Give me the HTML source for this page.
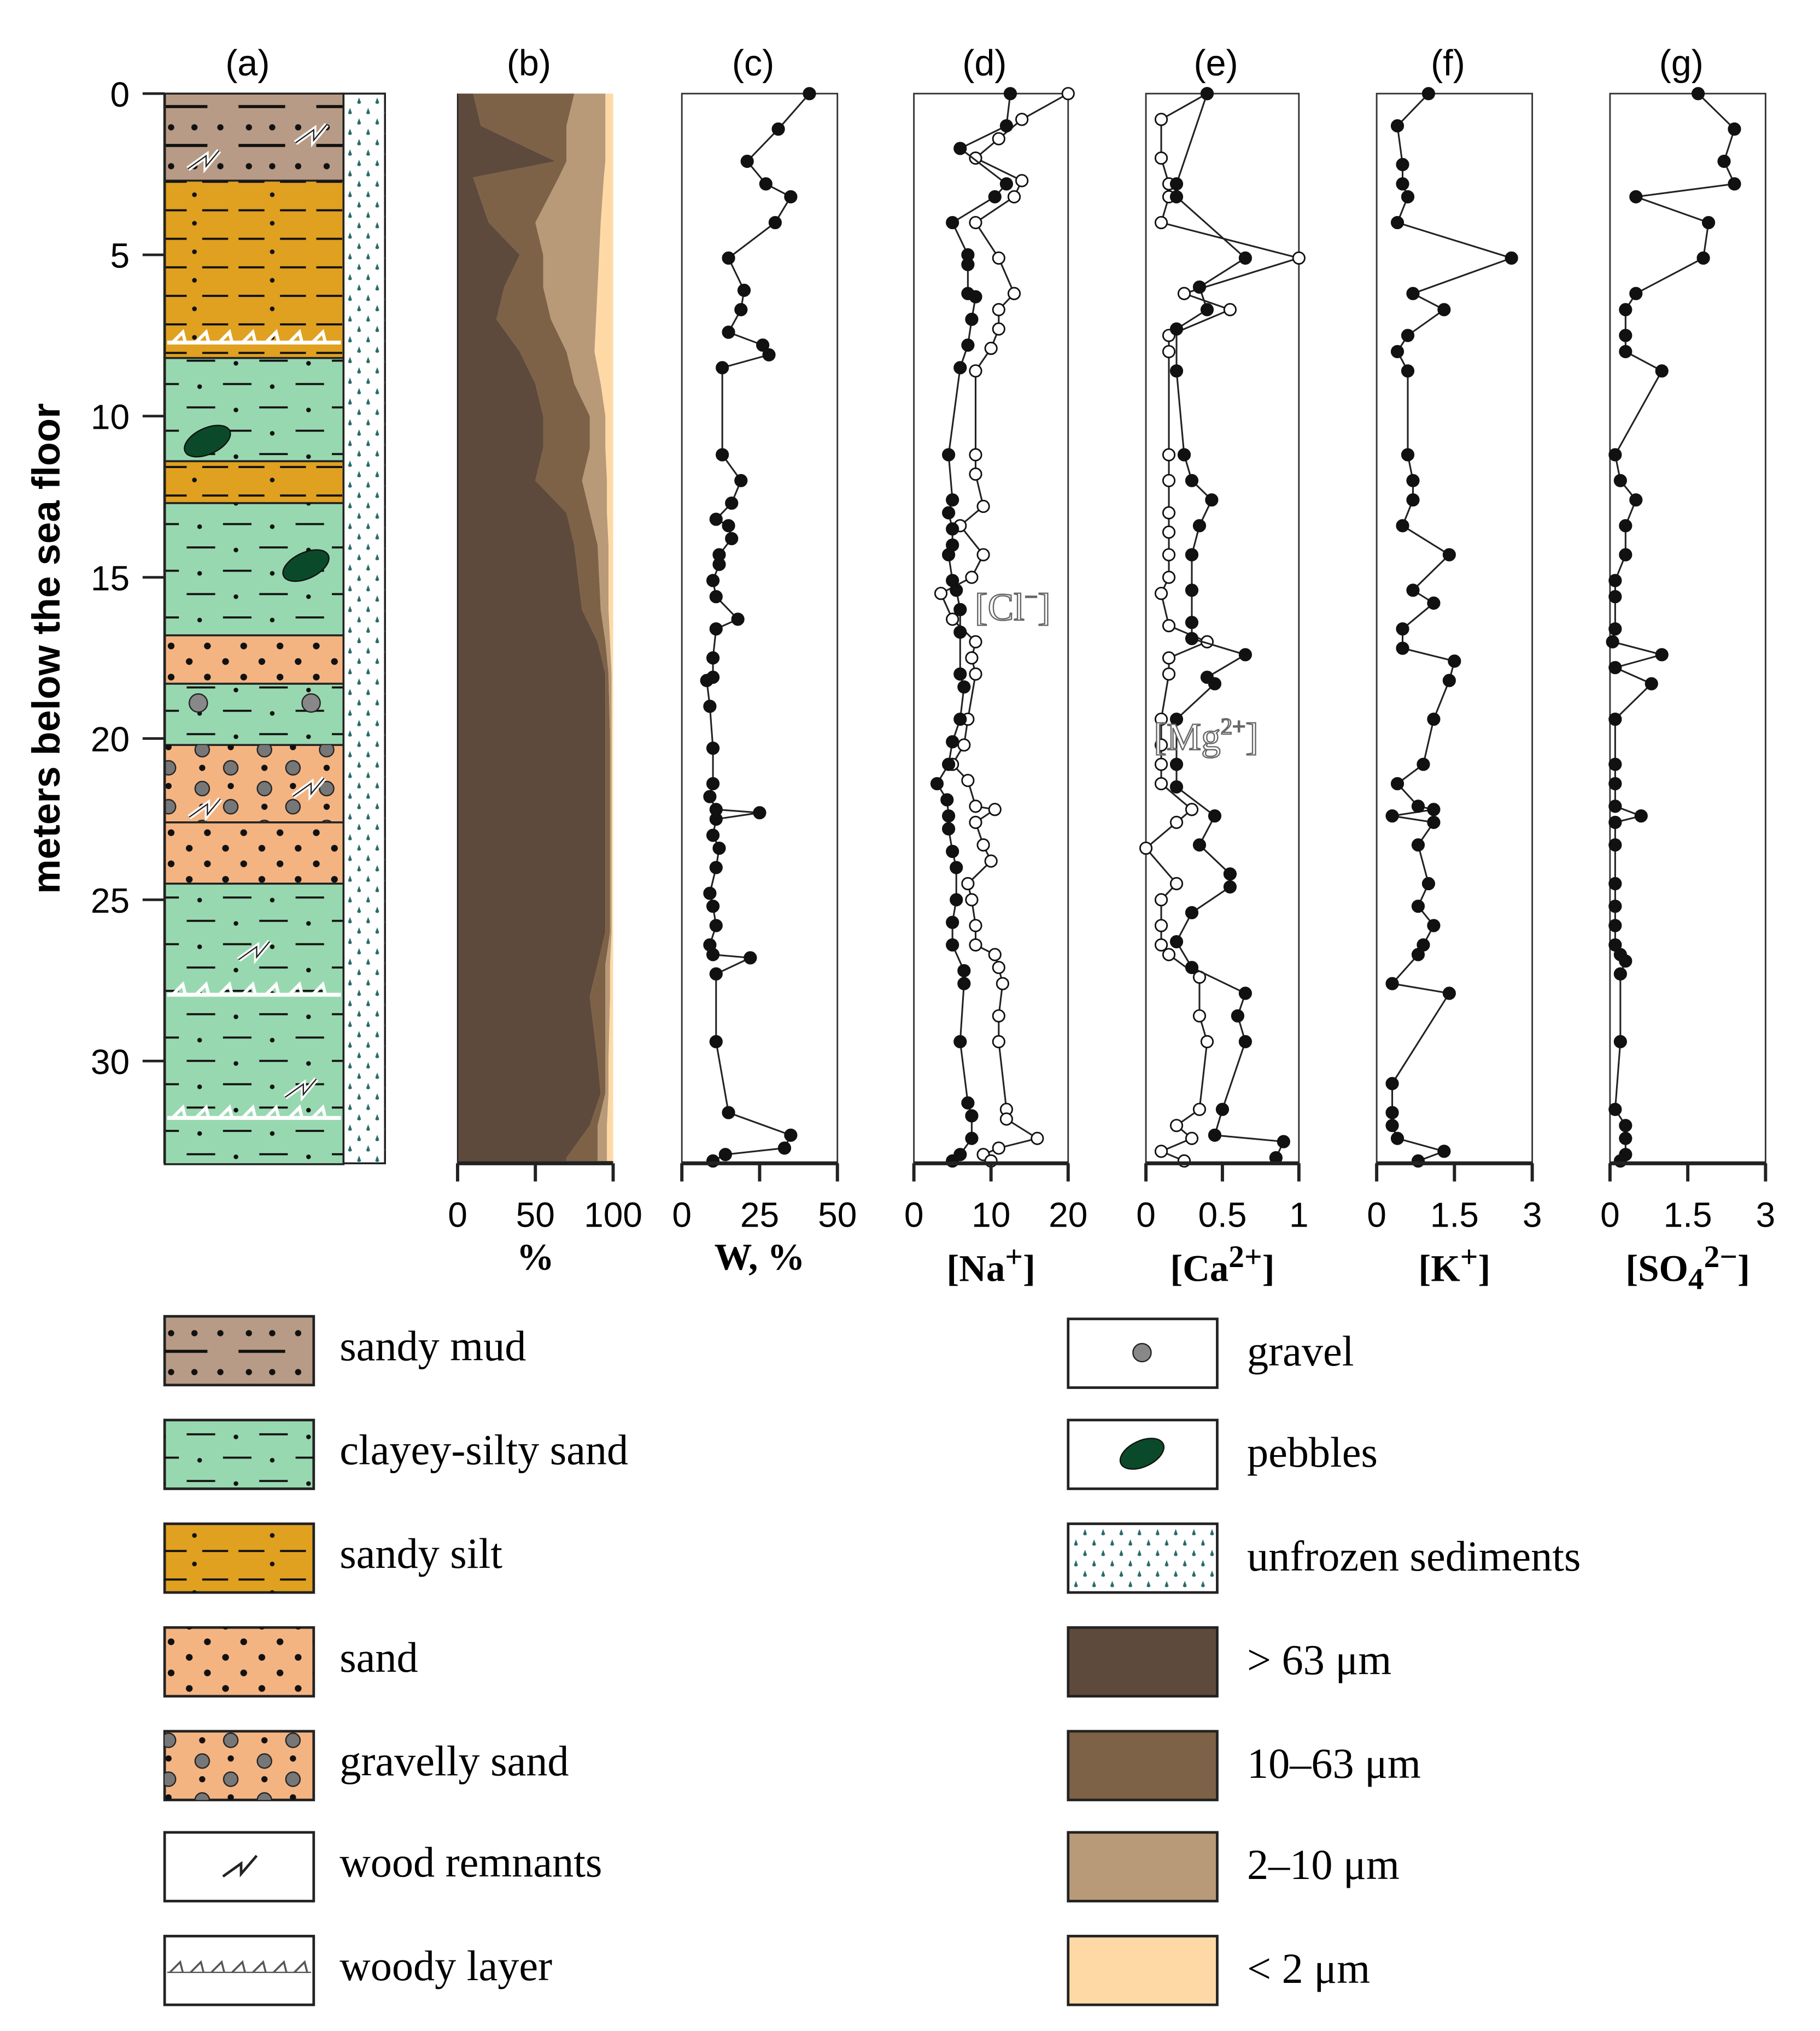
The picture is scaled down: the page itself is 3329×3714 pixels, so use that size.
<!DOCTYPE html>
<html><head><meta charset="utf-8"><style>html,body{margin:0;padding:0;background:#fff}svg{display:block}</style></head>
<body>
<svg id="fig" xmlns="http://www.w3.org/2000/svg" width="3329" height="3714" viewBox="0 0 1404 1566">
<defs>
<pattern id="pDots" width="28" height="24" patternUnits="userSpaceOnUse"><circle cx="6" cy="6" r="2.6" fill="#111"/><circle cx="20" cy="18" r="2.6" fill="#111"/></pattern>
<pattern id="pClay" width="56" height="36" patternUnits="userSpaceOnUse"><line x1="4" y1="8" x2="26" y2="8" stroke="#111" stroke-width="1.6"/><line x1="32" y1="26" x2="54" y2="26" stroke="#111" stroke-width="1.6"/><circle cx="42" cy="10" r="1.8" fill="#111"/><circle cx="14" cy="28" r="1.8" fill="#111"/></pattern>
<pattern id="pSilt" width="60" height="22" patternUnits="userSpaceOnUse"><line x1="4" y1="8" x2="24" y2="8" stroke="#111" stroke-width="1.6"/><line x1="36" y1="8" x2="56" y2="8" stroke="#111" stroke-width="1.6"/><circle cx="30" cy="18" r="1.8" fill="#111"/></pattern>
<pattern id="pMud" width="60" height="30" patternUnits="userSpaceOnUse"><line x1="4" y1="22" x2="40" y2="22" stroke="#111" stroke-width="2.4"/><circle cx="12" cy="8" r="2.4" fill="#111"/><circle cx="30" cy="8" r="2.4" fill="#111"/><circle cx="50" cy="8" r="2.4" fill="#111"/></pattern>
<pattern id="pDrop" width="14" height="16" patternUnits="userSpaceOnUse"><path d="M4 3 L2.5 7 A1.7 1.7 0 0 0 5.5 7 Z" fill="#2a6a6a"/><path d="M11 11 L9.5 15 A1.7 1.7 0 0 0 12.5 15 Z" fill="#2a6a6a"/></pattern>
<pattern id="pGrav" width="48" height="30" patternUnits="userSpaceOnUse"><circle cx="12" cy="8" r="5.5" fill="#777" stroke="#222" stroke-width="1"/><circle cx="34" cy="22" r="5.5" fill="#777" stroke="#222" stroke-width="1"/><circle cx="34" cy="6" r="2.4" fill="#111"/><circle cx="12" cy="22" r="2.4" fill="#111"/></pattern>
</defs>
<g id="panelA"></g>
<g id="charts"></g>
<g id="legend"></g>
</svg>
<script>
const NS='http://www.w3.org/2000/svg';
const svg=document.getElementById('fig');
function mk(tag,at,parent){const e=document.createElementNS(NS,tag);for(const k in at)e.setAttribute(k,at[k]);(parent||svg).appendChild(e);return e;}
const Y0=72, PXM=24.87, YB=897;
function yD(d){return Y0+d*PXM;}

const layerTops=[0,2.7,8.2,11.4,12.7,16.8,18.3,20.2,22.6,24.5];
const layerBots=[2.7,8.2,11.4,12.7,16.8,18.3,20.2,22.6,24.5,33.2];
const layerTypes=['mud','silt','clay','silt','clay','sand','clay','grav','sand','clay'];
const fills={mud:['#b89b86','pMud'],silt:['#e0a020','pSilt'],clay:['#98d8b0','pClay'],sand:['#f4b482','pDots'],grav:['#f4b482','pGrav']};
const A=document.getElementById('panelA');
layerTops.forEach((t,i)=>{
 const f=fills[layerTypes[i]];
 const r=mk('rect',{x:127,y:yD(t),width:138,height:yD(layerBots[i])-yD(t),fill:f[0],stroke:'#222','stroke-width':1.5},A);
 
 
 mk('rect',{x:127,y:yD(t),width:138,height:yD(layerBots[i])-yD(t),fill:'url(#'+f[1]+')'},A);
});
mk('rect',{x:265,y:Y0,width:32,height:YB-Y0,fill:'#fff',stroke:'#222','stroke-width':1.5},A);
mk('rect',{x:265,y:Y0,width:32,height:YB-Y0,fill:'url(#pDrop)'},A);
[[160,340],[236,436]].forEach(p=>mk('ellipse',{cx:p[0],cy:p[1],rx:19,ry:10,fill:'#0a4a2a',stroke:'#111',transform:`rotate(-25 ${p[0]} ${p[1]})`},A));
[[153,542],[240,542]].forEach(p=>mk('circle',{cx:p[0],cy:p[1],r:7,fill:'#888',stroke:'#222'},A));
function wood(x,y,g){mk('path',{d:`M${x-12} ${y+6} L${x+2} ${y-4} L${x+2} ${y+4} L${x+12} ${y-8}`,fill:'none',stroke:'#fff','stroke-width':4},g);mk('path',{d:`M${x-12} ${y+6} L${x+2} ${y-4} L${x+2} ${y+4} L${x+12} ${y-8}`,fill:'none',stroke:'#222','stroke-width':1},g);}
[[157,124],[240,104],[158,624],[238,608],[196,734],[232,840]].forEach(p=>wood(p[0],p[1],A));
function woody(y,x0,x1,g){mk('line',{x1:x0,y1:y,x2:x1,y2:y,stroke:'#fff','stroke-width':3},g);for(let x=x0+4;x<x1-10;x+=18)mk('path',{d:`M${x} ${y} L${x+8} ${y-8} L${x+10} ${y}`,fill:'none',stroke:'#fff','stroke-width':2.5},g);}
[264,767,862].forEach(y=>woody(y,129,263,A));

const depthTicks=[0,5,10,15,20,25,30];
depthTicks.forEach(d=>{
 const t=mk('text',{x:100,y:yD(d)+10,'font-size':27,'text-anchor':'end','font-family':'Liberation Sans, sans-serif'});t.textContent=d;
 
 mk('line',{x1:110,y1:yD(d),x2:127,y2:yD(d),stroke:'#222','stroke-width':2});
});
mk('line',{x1:127,y1:Y0,x2:127,y2:YB,stroke:'#222','stroke-width':2});
const yt=mk('text',{x:0,y:0,'font-size':30,'font-weight':'bold','text-anchor':'middle','font-family':'Liberation Sans, sans-serif',transform:'translate(46 500) rotate(-90)'});yt.textContent='meters below the sea floor';


const gsDepth=[0,1,2.1,2.6,4,5,6,7,8,9,10,11,12,13,14,16,17,18,20,22,24,26,27,28,30,31,32,33,33.1];
const gsSand=[10,15,63,10,20,40,30,25,40,50,55,55,50,70,75,80,90,95,95,95,95,95,90,85,90,92,85,70,70];
const gsSilt=[75,70,70,65,50,55,55,60,70,75,85,85,80,85,90,92,95,97,98,98,98,98,95,95,95,95,90,90,90];
const gsClay=[95,95,95,94,92,91,90,89,88,92,95,95,96,96,97,97,98,99,99,99,99,99,98,98,97,97,96,96,96];

const wD=[0,1.1,2.1,2.8,3.2,4,5.1,6.1,6.7,7.4,7.8,8.1,8.5,11.2,12,12.7,13.2,13.4,13.8,14.3,14.6,15.1,15.6,16.3,16.6,17.5,18.1,18.2,19,20.3,21.4,21.8,22.2,22.3,22.5,23,23.4,24,24.8,25.2,25.8,26.4,26.7,26.8,27.3,29.4,31.6,32.3,32.7,32.9,33.1];
const wV=[41,31,21,27,35,30,15,20,19,15,26,28,13,13,19,16,11,15,16,12,12,10,11,18,11,10,10,8,9,10,10,9,11,25,11,10,12,11,9,10,11,9,10,22,11,11,15,35,33,14,10];
const naD=[0,1,1.7,2.8,3.2,4,5,5.3,6.2,6.3,7,7.8,8.5,11.2,12.6,13,13.5,14,14.3,15.1,15.4,16,16.7,18,18.4,19.4,20.1,20.8,21.4,21.9,22.4,22.8,23.5,24,25,25.7,26.4,27.2,27.6,29.4,31.3,31.7,32.4,32.9,33.1];
const naV=[12.5,12,6,12,10.5,5,7,7,7,8,7.5,7,6,4.5,5,4.5,5,5,4.5,5,5.5,6,6,6,6.5,6,5,4.5,3,4.3,4.5,4.5,5,5.5,5.5,5,5,6.5,6.5,6,7,7.5,7.5,6,5];
const clD=[0,0.8,1.4,2,2.7,3.2,4,5.1,6.2,6.7,7.3,7.9,8.6,11.2,11.8,12.8,13.4,14.3,15,15.5,16.3,17,17.5,18,19.4,20.2,20.8,21.3,22.1,22.2,22.6,23.3,23.8,24.5,25,25.8,26.4,26.7,27.1,27.6,28.6,29.4,31.5,31.8,32.4,32.7,32.9,33.1];
const clV=[20,14,11,8,14,13,8,11,13,11,11,10,8,8,8,9,6,9,7.5,3.5,5,8,7.5,8,7,6.5,5,7,8,10.5,8,9,10,7,7.5,8,8,10.5,11,11.5,11,11,12,12,16,11,9,10];
const caD=[0,2.8,3.2,5.1,6,6.7,7.3,8.6,11.2,12,12.6,13.4,14.3,15.4,16.4,16.9,17.4,18.1,18.3,19.4,20.8,21.5,22.4,23.3,24.2,24.6,25.4,26.3,27.1,27.9,28.6,29.4,31.5,32.3,32.5,33.0];
const caV=[0.4,0.2,0.2,0.65,0.35,0.4,0.2,0.2,0.25,0.3,0.43,0.35,0.3,0.3,0.3,0.3,0.65,0.4,0.45,0.2,0.2,0.2,0.45,0.35,0.55,0.55,0.3,0.2,0.3,0.65,0.6,0.65,0.5,0.45,0.9,0.85];
const mgD=[0,0.8,2,2.8,3.2,4,5.1,6.2,6.7,7.5,8,11.2,12,13,13.6,14.3,15,15.5,16.5,17,17.5,18,19.4,20.2,20.8,21.4,22.2,22.6,23.4,24.5,25,25.8,26.4,26.7,27.4,28.6,29.4,31.5,32,32.4,32.8,33.1];
const mgV=[0.4,0.1,0.1,0.15,0.15,0.1,1.0,0.25,0.55,0.15,0.15,0.15,0.15,0.15,0.15,0.15,0.15,0.1,0.15,0.4,0.15,0.15,0.1,0.1,0.1,0.1,0.3,0.2,0,0.2,0.1,0.1,0.1,0.15,0.35,0.35,0.4,0.35,0.2,0.3,0.1,0.25];
const kD=[0,1,2.2,2.8,3.2,4,5.1,6.2,6.7,7.5,8,8.6,11.2,12,12.6,13.4,14.3,15.4,15.8,16.6,17.2,17.6,18.2,19.4,20.8,21.4,22.1,22.2,22.4,22.6,23.3,24.5,25.2,25.8,26.4,26.7,27.6,27.9,30.7,31.6,32.0,32.4,32.8,33.1];
const kV=[1.0,0.4,0.5,0.5,0.6,0.4,2.6,0.7,1.3,0.6,0.4,0.6,0.6,0.7,0.7,0.5,1.4,0.7,1.1,0.5,0.5,1.5,1.4,1.1,0.9,0.4,0.8,1.1,0.3,1.1,0.8,1.0,0.8,1.1,0.9,0.8,0.3,1.4,0.3,0.3,0.3,0.4,1.3,0.8];
const sD=[0,1.1,2.1,2.8,3.2,4,5.1,6.2,6.7,7.5,8,8.6,11.2,12,12.6,13.4,14.3,15.1,15.6,16.6,17,17.4,17.8,18.3,19.4,20.8,21.4,22.1,22.4,22.6,23.3,24.5,25.2,25.8,26.4,26.7,26.9,27.3,29.4,31.5,32,32.4,32.9,33.1];
const sV=[1.7,2.4,2.2,2.4,0.5,1.9,1.8,0.5,0.3,0.3,0.3,1.0,0.1,0.2,0.5,0.3,0.3,0.1,0.1,0.1,0.05,1.0,0.1,0.8,0.1,0.1,0.1,0.1,0.6,0.1,0.1,0.1,0.1,0.1,0.1,0.2,0.3,0.2,0.2,0.1,0.3,0.3,0.3,0.2];

const panels=[
 {id:'b',x0:353,x1:473,max:100,ticks:[0,50,100],labs:['0','50','100'],title:'%',box:false},
 {id:'c',x0:526,x1:646,max:50,ticks:[0,25,50],labs:['0','25','50'],title:'W, %',box:true,series:[[wD,wV,'#111']]},
 {id:'d',x0:705,x1:824,max:20,ticks:[0,10,20],labs:['0','10','20'],title:'[Na<sup>+</sup>]',box:true,series:[[clD,clV,'#fff'],[naD,naV,'#111']]},
 {id:'e',x0:884,x1:1002,max:1,ticks:[0,0.5,1],labs:['0','0.5','1'],title:'[Ca<sup>2+</sup>]',box:true,series:[[mgD,mgV,'#fff'],[caD,caV,'#111']]},
 {id:'f',x0:1062,x1:1182,max:3,ticks:[0,1.5,3],labs:['0','1.5','3'],title:'[K<sup>+</sup>]',box:true,series:[[kD,kV,'#111']]},
 {id:'g',x0:1242,x1:1362,max:3,ticks:[0,1.5,3],labs:['0','1.5','3'],title:'[SO<sub>4</sub><sup>2−</sup>]',box:true,series:[[sD,sV,'#111']]}
];
const C=document.getElementById('charts');
{const t=mk('text',{x:191,y:58,'font-size':28,'text-anchor':'middle','font-family':'Liberation Sans, sans-serif'});t.textContent='(a)';}
panels.forEach(p=>{
 const g=mk('g',{},C);
 
 
 const xS=v=>p.x0+v/p.max*(p.x1-p.x0);
 const lab=mk('text',{x:(p.x0+p.x1)/2-5,y:58,'font-size':28,'text-anchor':'middle','font-family':'Liberation Sans, sans-serif'},g);lab.textContent='('+p.id+')';
 if(p.id==='b'){
  const area=(vals,prev,col,name)=>{
   let d='M';gsDepth.forEach((dd,i)=>{d+=xS(vals[i])+' '+yD(dd)+' L';});
   for(let i=gsDepth.length-1;i>=0;i--){d+=(prev?xS(prev[i]):xS(0))+' '+yD(gsDepth[i])+(i?' L':' Z');}
   const pa=mk('path',{d:d,fill:col,stroke:'none'},g);
   
  };
  const full=gsDepth.map(()=>100);
  area(full,gsClay,'#fed9a6','area-clay');
  area(gsClay,gsSilt,'#b89a78','area-fine-silt');
  area(gsSilt,gsSand,'#7d6247','area-silt');
  area(gsSand,null,'#5e4a3c','area-sand');
  mk('rect',{x:p.x0,y:yD(33.1),width:p.x1-p.x0,height:YB-yD(33.1),fill:'#5e4a3c'},g);
  mk('line',{x1:p.x0,y1:Y0,x2:p.x0,y2:YB,stroke:'#222','stroke-width':1},g);
 }
 if(p.box) mk('rect',{x:p.x0,y:Y0,width:p.x1-p.x0,height:YB-Y0,fill:'none',stroke:'#333','stroke-width':1.2},g);
 (p.series||[]).forEach(s=>{
  const pts=s[0].map((d,i)=>xS(s[1][i])+','+yD(d)).join(' ');
  const pl=mk('polyline',{points:pts,fill:'none',stroke:'#222','stroke-width':1.3},g);
  
  s[0].forEach((d,i)=>{const c=mk('circle',{cx:xS(s[1][i]),cy:yD(d),r:4.5,fill:s[2],stroke:'#111','stroke-width':1.2},g);
   });
 });
 mk('line',{x1:p.x0,y1:YB,x2:p.x1,y2:YB,stroke:'#222','stroke-width':3},g);
 p.ticks.forEach((v,i)=>{
  mk('line',{x1:xS(v),y1:YB,x2:xS(v),y2:YB+14,stroke:'#222','stroke-width':2.5},g);
  const t=mk('text',{x:xS(v),y:946,'font-size':27,'text-anchor':'middle','font-family':'Liberation Sans, sans-serif'},g);t.textContent=p.labs[i];
  
 });
 const fo=mk('foreignObject',{x:p.x0-40,y:950,width:p.x1-p.x0+80,height:44},g);
 fo.innerHTML='<div xmlns="http://www.w3.org/1999/xhtml" style="text-align:center;font:bold 29px \'Liberation Serif\',serif;line-height:40px">'+p.title+'</div>';
 
});
{const t=mk('text',{x:752,y:478,'font-size':30,fill:'#fff',stroke:'#666','stroke-width':1,'font-family':'Liberation Serif, serif'});t.innerHTML='[Cl<tspan font-size="18" dy="-12">−</tspan><tspan dy="12">]</tspan>';}
{const t=mk('text',{x:890,y:578,'font-size':30,fill:'#fff',stroke:'#666','stroke-width':1,'font-family':'Liberation Serif, serif'});t.innerHTML='[Mg<tspan font-size="18" dy="-12">2+</tspan><tspan dy="12">]</tspan>';}

const L=document.getElementById('legend');
const leftItems=[['sandy mud','#b89b86','pMud'],['clayey-silty sand','#98d8b0','pClay'],['sandy silt','#e0a020','pSilt'],['sand','#f4b482','pDots'],['gravelly sand','#f4b482','pGrav'],['wood remnants','#fff',null],['woody layer','#fff',null]];
const ys=[1015,1095,1175,1255,1335,1413,1493];
leftItems.forEach((it,i)=>{
 const g=mk('g',{},L);
 mk('rect',{x:127,y:ys[i],width:115,height:53,fill:it[1],stroke:'#222','stroke-width':2},g);
 if(it[2])mk('rect',{x:127,y:ys[i],width:115,height:53,fill:'url(#'+it[2]+')'},g);
 if(i===5){mk('path',{d:`M172 ${ys[i]+34} L186 ${ys[i]+24} L186 ${ys[i]+32} L198 ${ys[i]+18}`,fill:'none',stroke:'#222','stroke-width':2},g);}
 if(i===6){mk('line',{x1:129,y1:ys[i]+28,x2:240,y2:ys[i]+28,stroke:'#555','stroke-width':1},g);for(let x=131;x<232;x+=16)mk('path',{d:`M${x} ${ys[i]+28} L${x+8} ${ys[i]+20} L${x+10} ${ys[i]+28}`,fill:'none',stroke:'#555','stroke-width':1.5},g);}
 const t=mk('text',{x:262,y:ys[i]+34,'font-size':33,'font-family':'Liberation Serif, serif'},g);t.textContent=it[0];
});
const rightItems=[['gravel','#fff'],['pebbles','#fff'],['unfrozen sediments','#fff'],['> 63 μm','#5e4a3c'],['10–63 μm','#7d6247'],['2–10 μm','#b89a78'],['< 2 μm','#fed9a6']];
const ry=[1017,1095,1175,1255,1335,1413,1493];
rightItems.forEach((it,i)=>{
 const g=mk('g',{},L);
 mk('rect',{x:824,y:ry[i],width:115,height:53,fill:it[1],stroke:'#222','stroke-width':2},g);
 if(i===0)mk('circle',{cx:881,cy:ry[i]+26,r:7,fill:'#888',stroke:'#222'},g);
 if(i===1)mk('ellipse',{cx:881,cy:ry[i]+26,rx:18,ry:10,fill:'#0a4a2a',stroke:'#111',transform:`rotate(-25 881 ${ry[i]+26})`},g);
 if(i===2)mk('rect',{x:825,y:ry[i]+1,width:113,height:51,fill:'url(#pDrop)'},g);
 const t=mk('text',{x:962,y:ry[i]+36,'font-size':33,'font-family':'Liberation Serif, serif'},g);t.textContent=it[0];
});
</script>
</body></html>
